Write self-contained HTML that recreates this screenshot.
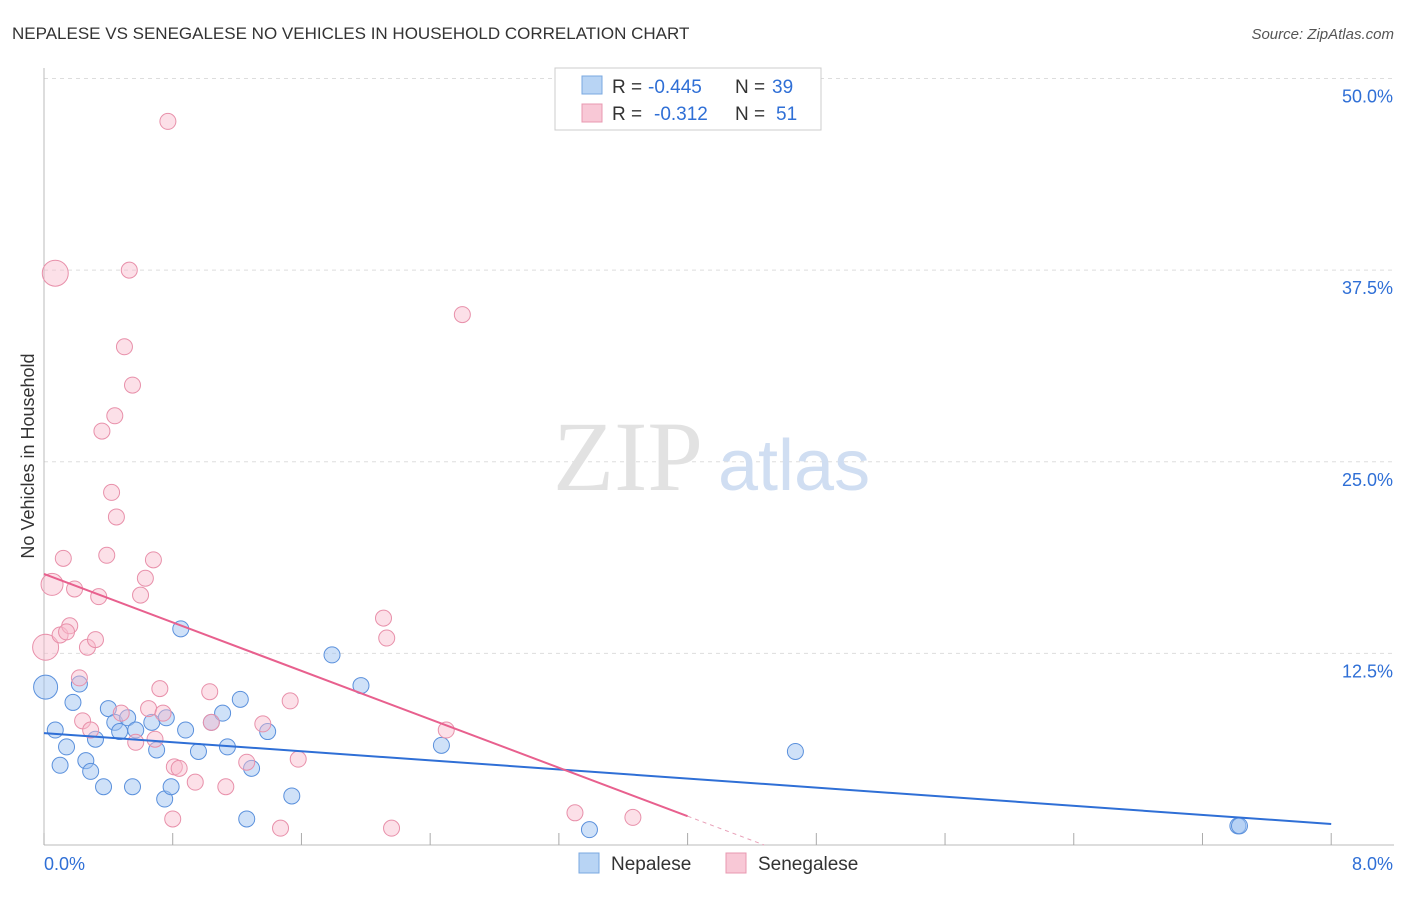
<!DOCTYPE html>
<html><head><meta charset="utf-8"><style>
body{margin:0;background:#fff;font-family:"Liberation Sans",sans-serif;}
svg text{font-family:"Liberation Sans",sans-serif;}
</style></head><body>
<svg width="1406" height="892" viewBox="0 0 1406 892">
<text x="12" y="39" font-size="17" fill="#333">NEPALESE VS SENEGALESE NO VEHICLES IN HOUSEHOLD CORRELATION CHART</text>
<text x="1394" y="39" font-size="15" fill="#555" font-style="italic" text-anchor="end">Source: ZipAtlas.com</text>
<g id="grid"></g>
<g id="axes"></g>
<text x="553" y="490" font-size="100" fill="#e2e2e2" style="font-family:'Liberation Serif',serif">ZIP</text>
<text x="718" y="490" font-size="72" fill="#d0def2">atlas</text>
<text transform="translate(34,456) rotate(-90)" font-size="18" fill="#333" text-anchor="middle">No Vehicles in Household</text>
<g id="pts"></g>
<g id="lines"></g>
<g>
<rect x="555" y="68" width="266" height="62" fill="#fff" stroke="#ccc"/>
<rect x="582" y="76" width="20" height="18" fill="#b8d4f4" stroke="#7aa8e0"/>
<rect x="582" y="104" width="20" height="18" fill="#f8c8d6" stroke="#e898b0"/>
<text y="93" font-size="19" fill="#333"><tspan x="612">R =</tspan><tspan x="648" fill="#2f6fd6">-0.445</tspan><tspan x="735">N =</tspan><tspan x="772" fill="#2f6fd6">39</tspan></text>
<text y="120" font-size="19" fill="#333"><tspan x="612">R =</tspan><tspan x="654" fill="#2f6fd6">-0.312</tspan><tspan x="735">N =</tspan><tspan x="776" fill="#2f6fd6">51</tspan></text>
</g>
<g>
<rect x="579" y="853" width="20" height="20" fill="#b8d4f4" stroke="#7aa8e0"/>
<text x="611" y="870" font-size="19" fill="#333">Nepalese</text>
<rect x="726" y="853" width="20" height="20" fill="#f8c8d6" stroke="#e898b0"/>
<text x="758" y="870" font-size="19" fill="#333">Senegalese</text>
</g>
</svg>
<script>
const yTicks=[0,12.5,25,37.5,50];
const yTickLabels=["","12.5%","25.0%","37.5%","50.0%"];
const xTicks=[0,0.8,1.6,2.4,3.2,4.0,4.8,5.6,6.4,7.2,8.0];
const nepX=[0.01,0.07,0.10,0.14,0.18,0.22,0.26,0.29,0.32,0.37,0.40,0.44,0.47,0.52,0.55,0.57,0.67,0.70,0.75,0.76,0.79,0.85,0.88,0.96,1.04,1.11,1.14,1.22,1.26,1.29,1.39,1.54,1.79,1.97,2.47,3.39,4.67,7.42,7.43];
const nepY=[10.3,7.5,5.2,6.4,9.3,10.5,5.5,4.8,6.9,3.8,8.9,8.0,7.4,8.3,3.8,7.5,8.0,6.2,3.0,8.3,3.8,14.1,7.5,6.1,8.0,8.6,6.4,9.5,1.7,5.0,7.4,3.2,12.4,10.4,6.5,1.0,6.1,1.25,1.25];
const nepBig=[1,0,0,0,0,0,0,0,0,0,0,0,0,0,0,0,0,0,0,0,0,0,0,0,0,0,0,0,0,0,0,0,0,0,0,0,0,0,0];
const senX=[0.01,0.07,0.05,0.12,0.10,0.16,0.14,0.19,0.22,0.24,0.27,0.29,0.32,0.34,0.36,0.39,0.42,0.44,0.45,0.48,0.50,0.53,0.55,0.57,0.60,0.63,0.65,0.68,0.69,0.72,0.74,0.77,0.80,0.81,0.84,0.94,1.03,1.04,1.13,1.26,1.36,1.47,1.53,1.58,2.11,2.13,2.16,2.50,2.60,3.30,3.66];
const senY=[12.9,37.3,17.0,18.7,13.7,14.3,13.9,16.7,10.9,8.1,12.9,7.5,13.4,16.2,27.0,18.9,23.0,28.0,21.4,8.6,32.5,37.5,30.0,6.7,16.3,17.4,8.9,18.6,6.9,10.2,8.6,47.2,1.7,5.1,5.0,4.1,10.0,8.0,3.8,5.4,7.9,1.1,9.4,5.6,14.8,13.5,1.1,7.5,34.6,2.1,1.8];
const senBig=[2,2,1,0,0,0,0,0,0,0,0,0,0,0,0,0,0,0,0,0,0,0,0,0,0,0,0,0,0,0,0,0,0,0,0,0,0,0,0,0,0,0,0,0,0,0,0,0,0,0,0];
const nepLine=[7.3,1.37];
const senLine=[17.68,-3.95];
function sx(v){return 44+v*160.9;}
function sy(v){return 845-v*15.33;}
const NS="http://www.w3.org/2000/svg";
function mk(t,a,p){const e=document.createElementNS(NS,t);for(const k in a)e.setAttribute(k,a[k]);p.appendChild(e);return e;}
const grid=document.getElementById('grid'),axes=document.getElementById('axes');
yTicks.forEach((t,i)=>{
 if(t>0){const l=mk('line',{x1:44,x2:1394,y1:sy(t),y2:sy(t),stroke:'#ddd','stroke-dasharray':'4,4'},grid);
 
 
 const tx=mk('text',{x:1393,y:sy(t)+24,'font-size':18,fill:'#2f6fd6','text-anchor':'end'},axes);tx.textContent=yTickLabels[i];
 
 }
});
mk('line',{x1:44,x2:44,y1:68,y2:845,stroke:'#bbb'},axes);
mk('line',{x1:44,x2:1394,y1:845,y2:845,stroke:'#bbb'},axes);
xTicks.forEach(t=>{const l=mk('line',{x1:sx(t),x2:sx(t),y1:833,y2:845,stroke:'#aaa'},axes);
 
 });
let a=mk('text',{x:44,y:870,'font-size':18,fill:'#2f6fd6'},axes);a.textContent='0.0%';


a=mk('text',{x:1393,y:870,'font-size':18,fill:'#2f6fd6','text-anchor':'end'},axes);a.textContent='8.0%';


const pts=document.getElementById('pts');
nepX.forEach((x,i)=>{const c=mk('circle',{cx:sx(x),cy:sy(nepY[i]),r:nepBig[i]?12:8,fill:'rgba(160,196,242,0.5)',stroke:'#5a90dc','stroke-width':1},pts);
 
 });
senX.forEach((x,i)=>{const c=mk('circle',{cx:sx(x),cy:sy(senY[i]),r:senBig[i]==2?13:senBig[i]==1?11:8,fill:'rgba(248,186,204,0.45)',stroke:'#e890aa','stroke-width':1},pts);
 
 });
const lines=document.getElementById('lines');
let l=mk('line',{x1:sx(0),y1:sy(nepLine[0]),x2:sx(8),y2:sy(nepLine[1]),stroke:'#2f6fd6','stroke-width':2},lines);


const sf=v=>senLine[0]+senLine[1]*v;
const xz=-senLine[0]/senLine[1];
l=mk('line',{x1:sx(0),y1:sy(sf(0)),x2:sx(4.0),y2:sy(sf(4.0)),stroke:'#e8608e','stroke-width':2},lines);


l=mk('line',{x1:sx(4.0),y1:sy(sf(4.0)),x2:sx(xz),y2:sy(0),stroke:'#e8a0b8','stroke-width':1,'stroke-dasharray':'4,4'},lines);


</script>
</body></html>
